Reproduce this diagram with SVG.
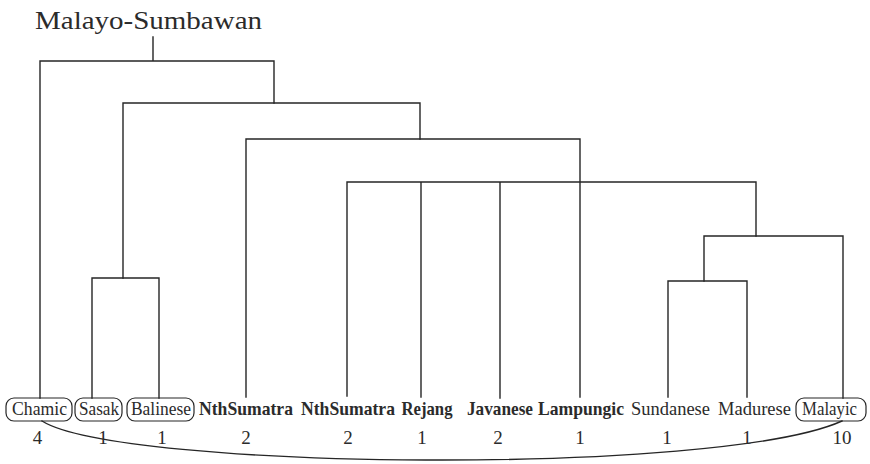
<svg xmlns="http://www.w3.org/2000/svg" width="870" height="464" viewBox="0 0 870 464">
<style>
.ln{fill:none;stroke:#262626;stroke-width:1.4;stroke-linecap:square}
.box{fill:none;stroke:#262626;stroke-width:1.2}
.t{font-family:"Liberation Serif",serif;font-size:19.5px;fill:#2b2b2b;text-anchor:middle}
.n{font-size:19px}
.b{font-weight:bold}
.ttl{font-family:"Liberation Serif",serif;font-size:25px;fill:#2b2b2b}
</style>
<rect width="870" height="464" fill="#fff"/>
<text class="ttl" x="35" y="29" textLength="227" lengthAdjust="spacingAndGlyphs">Malayo-Sumbawan</text>
<g id="connectors">
<path class="ln" d="M153 37V61M40 61H274M40 61V398M274 61V103"/>
<path class="ln" d="M123 103H420M123 103V278M420 103V139"/>
<path class="ln" d="M92 278H159M92 278V398M159 278V398"/>
<path class="ln" d="M246 139H580M246 139V397M580 139V397"/>
<path class="ln" d="M347 182H756M347 182V396M421 182V397M500 182V398M756 182V236"/>
<path class="ln" d="M704 236H843M704 236V281M843 236V398"/>
<path class="ln" d="M668 281H747M668 281V397M747 281V397"/>
<path class="ln" d="M42 421C120 470 720 476 842 421"/>
</g>
<g id="Chamic"><rect class="box" x="6" y="398" width="66" height="23" rx="8"/><text class="t" x="39.5" y="415" textLength="55" lengthAdjust="spacingAndGlyphs">Chamic</text><text class="t n" x="37.5" y="444">4</text></g>
<g id="Sasak"><rect class="box" x="75" y="398" width="47" height="23" rx="8"/><text class="t" x="99" y="415" textLength="40" lengthAdjust="spacingAndGlyphs">Sasak</text><text class="t n" x="103" y="444">1</text></g>
<g id="Balinese"><rect class="box" x="127" y="398" width="67" height="23" rx="8"/><text class="t" x="161" y="415" textLength="60" lengthAdjust="spacingAndGlyphs">Balinese</text><text class="t n" x="162" y="444">1</text></g>
<g id="NthSumatra1"><text class="t b" x="246" y="415" textLength="94" lengthAdjust="spacingAndGlyphs">NthSumatra</text><text class="t n" x="246" y="444">2</text></g>
<g id="NthSumatra2"><text class="t b" x="348" y="415" textLength="94" lengthAdjust="spacingAndGlyphs">NthSumatra</text><text class="t n" x="348" y="444">2</text></g>
<g id="Rejang"><text class="t b" x="427" y="415" textLength="51" lengthAdjust="spacingAndGlyphs">Rejang</text><text class="t n" x="422" y="444">1</text></g>
<g id="Javanese"><text class="t b" x="500" y="415" textLength="66" lengthAdjust="spacingAndGlyphs">Javanese</text><text class="t n" x="498" y="444">2</text></g>
<g id="Lampungic"><text class="t b" x="581" y="415" textLength="86" lengthAdjust="spacingAndGlyphs">Lampungic</text><text class="t n" x="580" y="444">1</text></g>
<g id="Sundanese"><text class="t" x="670.5" y="415" textLength="79" lengthAdjust="spacingAndGlyphs">Sundanese</text><text class="t n" x="667" y="444">1</text></g>
<g id="Madurese"><text class="t" x="754.5" y="415" textLength="73" lengthAdjust="spacingAndGlyphs">Madurese</text><text class="t n" x="747" y="444">1</text></g>
<g id="Malayic"><rect class="box" x="796" y="398" width="70" height="23" rx="8"/><text class="t" x="829.5" y="415" textLength="55" lengthAdjust="spacingAndGlyphs">Malayic</text><text class="t n" x="842" y="444">10</text></g>
</svg>
